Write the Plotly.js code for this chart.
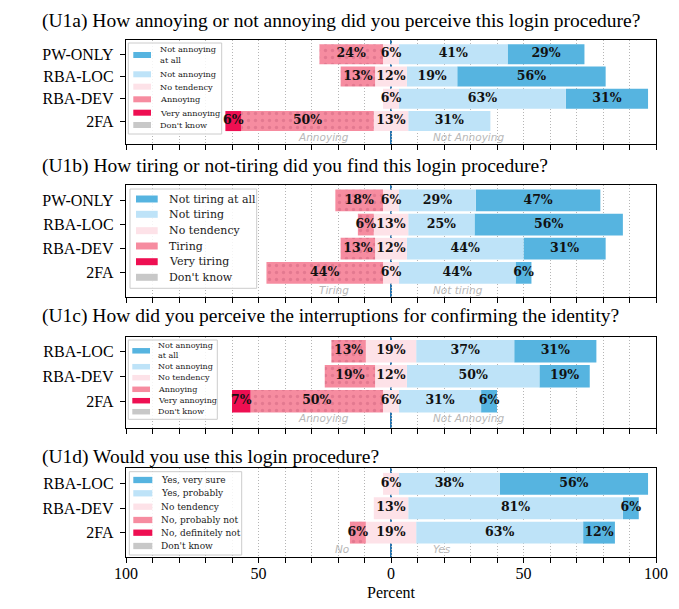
<!DOCTYPE html>
<html><head><meta charset="utf-8">
<script src="https://cdn.plot.ly/plotly-3.0.1.min.js"></script>
<style>body{margin:0;background:#fff;} #chart{width:679px;height:609px;}</style>
</head><body><div id="chart"></div>
<script>
// ---------- DATA ----------
const titleU1a = "(U1a) How annoying or not annoying did you perceive this login procedure?";
const titleU1b = "(U1b) How tiring or not-tiring did you find this login procedure?";
const titleU1c = "(U1c) How did you perceive the interruptions for confirming the identity?";
const titleU1d = "(U1d) Would you use this login procedure?";

const catsU1a = ["PW-ONLY", "RBA-LOC", "RBA-DEV", "2FA"];
const catsU1b = ["PW-ONLY", "RBA-LOC", "RBA-DEV", "2FA"];
const catsU1c = ["RBA-LOC", "RBA-DEV", "2FA"];
const catsU1d = ["RBA-LOC", "RBA-DEV", "2FA"];

// levels: very positive, positive, neutral, negative, very negative, don't know (percent)
const u1aVeryPos = [29, 56, 31, 0];
const u1aPos     = [41, 19, 63, 31];
const u1aNeutral = [6, 12, 6, 13];
const u1aNeg     = [24, 13, 0, 50];
const u1aVeryNeg = [0, 0, 0, 6];
const u1aDontKnow = [0, 0, 0, 0];

const u1bVeryPos = [47, 56, 31, 6];
const u1bPos     = [29, 25, 44, 44];
const u1bNeutral = [6, 13, 12, 6];
const u1bNeg     = [18, 6, 13, 44];
const u1bVeryNeg = [0, 0, 0, 0];
const u1bDontKnow = [0, 0, 0, 0];

const u1cVeryPos = [31, 19, 6];
const u1cPos     = [37, 50, 31];
const u1cNeutral = [19, 12, 6];
const u1cNeg     = [13, 19, 50];
const u1cVeryNeg = [0, 0, 7];
const u1cDontKnow = [0, 0, 0];

const u1dVeryPos = [56, 6, 12];
const u1dPos     = [38, 81, 63];
const u1dNeutral = [6, 13, 19];
const u1dNeg     = [0, 0, 6];
const u1dVeryNeg = [0, 0, 0];
const u1dDontKnow = [0, 0, 0];

const legendU1a = ["Not annoying<br>at all", "Not annoying", "No tendency", "Annoying", "Very annoying", "Don't know"];
const legendU1b = ["Not tiring at all", "Not tiring", "No tendency", "Tiring", "Very tiring", "Don't know"];
const legendU1c = ["Not annoying<br>at all", "Not annoying", "No tendency", "Annoying", "Very annoying", "Don't know"];
const legendU1d = ["Yes, very sure", "Yes, probably", "No tendency", "No, probably not", "No, definitely not", "Don't know"];

const sideU1a = ["Annoying", "Not Annoying"];
const sideU1b = ["Tiring", "Not tiring"];
const sideU1c = ["Annoying", "Not Annoying"];
const sideU1d = ["No", "Yes"];

const xTickVals = [-100, -50, 0, 50, 100];
const xTickText = ["100", "50", "0", "50", "100"];

// ---------- STYLE / LAYOUT ----------
const colors = ["#56b4e0", "#bee3f8", "#fde2e8", "#f68ca0", "#ee0f52", "#c8c8c8"];
const W = 679, H = 609, L = 126, R = 23, T = 40, B = 52;
const PW = W - L - R, PH = H - T - B;
const px = v => (v - L) / PW;
const py = v => (H - B - v) / PH;

const panels = [
  {title: titleU1a, cats: catsU1a, data: [u1aVeryPos, u1aPos, u1aNeutral, u1aNeg, u1aVeryNeg, u1aDontKnow],
   legend: legendU1a, side: sideU1a,
   dom: [40, 144], range: [4.03, -0.64], titleY: 21, sideY: 3.72,
   legBox: [128.3, 221.7, 43, 134], legY: [55, 74.3, 86.7, 99.3, 112.7, 125], legFont: 8.2,
   swX: [133.3, 151], swH: 6, txtX: 157.5},
  {title: titleU1b, cats: catsU1b, data: [u1bVeryPos, u1bPos, u1bNeutral, u1bNeg, u1bVeryNeg, u1bDontKnow],
   legend: legendU1b, side: sideU1b,
   dom: [185, 297], range: [4.0, -0.64], titleY: 166, sideY: 3.71,
   legBox: [130, 256.7, 189, 288.3], legY: [199, 214.3, 230.7, 246, 261.7, 277.3], legFont: 11,
   swX: [136, 157.7], swH: 7, txtX: 166.5},
  {title: titleU1c, cats: catsU1c, data: [u1cVeryPos, u1cPos, u1cNeutral, u1cNeg, u1cVeryNeg, u1cDontKnow],
   legend: legendU1c, side: sideU1c,
   dom: [337, 428], range: [3.07, -0.57], titleY: 316, sideY: 2.66,
   legBox: [128.3, 217.3, 340, 419.3], legY: [350.8, 366.7, 377.7, 389.3, 400.7, 411.7], legFont: 8,
   swX: [132.3, 150], swH: 5.5, txtX: 156},
  {title: titleU1d, cats: catsU1d, data: [u1dVeryPos, u1dPos, u1dNeutral, u1dNeg, u1dVeryNeg, u1dDontKnow],
   legend: legendU1d, side: sideU1d,
   dom: [468, 557], range: [3.0, -0.65], titleY: 457, sideY: 2.68,
   legBox: [129.3, 241.7, 471.7, 555], legY: [480, 493.3, 506.7, 520, 532.7, 546], legFont: 9,
   swX: [133.3, 152.3], swH: 6.3, txtX: 159.3}
];

const traces = [];
const shapes = [];
const annotations = [];
const layout = {
  width: W, height: H,
  margin: {l: L, r: R, t: T, b: B, pad: 0},
  paper_bgcolor: "#fff", plot_bgcolor: "#fff",
  font: {family: "Liberation Serif", color: "#000", size: 16},
  barmode: "overlay",
  showlegend: false,
  shapes: shapes, annotations: annotations
};

panels.forEach((p, i) => {
  const k = i === 0 ? "" : String(i + 1);
  const xa = "x" + k, ya = "y" + k;
  const [vp, pos, neu, neg, vn] = p.data;
  const half = neu.map(v => v / 2);
  const segs = [
    {vals: vp,  base: pos.map((v, j) => half[j] + v), c: 0},
    {vals: pos, base: half.slice(), c: 1},
    {vals: neu, base: half.map(h => -h), c: 2},
    {vals: neg, base: neg.map((v, j) => -half[j] - v), c: 3},
    {vals: vn,  base: vn.map((v, j) => -half[j] - neg[j] - v), c: 4}
  ];
  const lx = [], ly = [], lt = [];
  segs.forEach(s => {
    const marker = {color: colors[s.c], line: {width: 0}};
    if (s.c === 3) {
      marker.pattern = {shape: ".", bgcolor: colors[3], fgcolor: "#e37990", size: 7, solidity: 0.18};
    }
    traces.push({
      type: "bar", orientation: "h",
      x: s.vals, y: p.cats, base: s.base,
      xaxis: xa, yaxis: ya,
      width: 0.9,
      marker: marker,
      hoverinfo: "skip"
    });
    s.vals.forEach((v, j) => {
      if (v > 0) { lx.push(s.base[j] + v / 2); ly.push(p.cats[j]); lt.push(v + "%"); }
    });
  });
  // value labels on top of all bars
  traces.push({
    type: "scatter", mode: "text", x: lx, y: ly, text: lt,
    xaxis: xa, yaxis: ya, textposition: "middle center",
    textfont: {family: "DejaVu Serif", size: 12.5, color: "#111", weight: "bold"},
    hoverinfo: "skip", cliponaxis: false
  });

  const d0 = py(p.dom[1]), d1 = py(p.dom[0]);
  layout["xaxis" + k] = {
    domain: [0, 1], anchor: ya, range: [-100, 100],
    tickvals: xTickVals, ticktext: xTickText,
    ticks: "outside", ticklen: 5, tickcolor: "#000", tickwidth: 1,
    showticklabels: i === panels.length - 1,
    tickfont: {family: "Liberation Serif", size: 16},
    ticklabelstandoff: -3,
    showgrid: true, gridcolor: "#b5b5b5", gridwidth: 1, griddash: "1px,2px",
    minor: {dtick: 10, tick0: 0, ticks: "outside", ticklen: 5, tickcolor: "#000",
            showgrid: true, gridcolor: "#b5b5b5", gridwidth: 1, griddash: "1px,2px"},
    showline: true, linecolor: "#000", linewidth: 1.2, mirror: true,
    zeroline: false, fixedrange: true
  };
  if (i > 0) layout["xaxis" + k].matches = "x";
  if (i === panels.length - 1) {
    layout["xaxis" + k].title = {text: "Percent", font: {family: "Liberation Serif", size: 16}, standoff: 5};
  }
  layout["yaxis" + k] = {
    domain: [d0, d1], anchor: xa, type: "category",
    categoryarray: p.cats, range: p.range,
    ticks: "outside", ticklen: 5, tickcolor: "#000",
    tickfont: {family: "Liberation Serif", size: 16},
    ticklabelstandoff: 3,
    showgrid: false, zeroline: false,
    showline: true, linecolor: "#000", linewidth: 1.2, mirror: true,
    fixedrange: true
  };

  // zero reference line (behind the bars)
  shapes.push({type: "line", xref: xa, yref: ya + " domain", x0: 0, x1: 0, y0: 0, y1: 1,
    line: {color: "#2a76b0", width: 2}, layer: "below"});

  // panel title
  annotations.push({text: p.title, xref: "paper", yref: "paper", x: px(40), y: py(p.titleY),
    xanchor: "left", yanchor: "middle", showarrow: false,
    font: {family: "Liberation Serif", size: 19.5, color: "#000"}});

  // side labels
  const frac = (p.range[0] - p.sideY) / (p.range[0] - p.range[1]);
  annotations.push({text: p.side[0], xref: xa, yref: ya + " domain", x: -15, y: frac,
    xanchor: "right", yanchor: "middle", showarrow: false,
    font: {family: "DejaVu Sans", size: 10.5, color: "#b8b8b8", style: "italic"}});
  annotations.push({text: p.side[1], xref: xa, yref: ya + " domain", x: 15, y: frac,
    xanchor: "left", yanchor: "middle", showarrow: false,
    font: {family: "DejaVu Sans", size: 10.5, color: "#b8b8b8", style: "italic"}});

  // legend box
  shapes.push({type: "rect", xref: "paper", yref: "paper",
    x0: px(p.legBox[0]), x1: px(p.legBox[1]), y0: py(p.legBox[3]), y1: py(p.legBox[2]),
    line: {color: "#cccccc", width: 1}, fillcolor: "rgba(255,255,255,0.85)", layer: "above"});
  p.legend.forEach((lab, j) => {
    const yc = p.legY[j];
    shapes.push({type: "rect", xref: "paper", yref: "paper",
      x0: px(p.swX[0]), x1: px(p.swX[1]), y0: py(yc + p.swH / 2), y1: py(yc - p.swH / 2),
      line: {width: 0}, fillcolor: colors[j], layer: "above"});
    annotations.push({text: lab, xref: "paper", yref: "paper", x: px(p.txtX), y: py(yc),
      xanchor: "left", yanchor: "middle", align: "left", showarrow: false,
      font: {family: "DejaVu Serif", size: p.legFont, color: "#1a1a1a"}});
  });
});

Plotly.newPlot("chart", traces, layout, {displayModeBar: false, staticPlot: true});
</script>
</body></html>
